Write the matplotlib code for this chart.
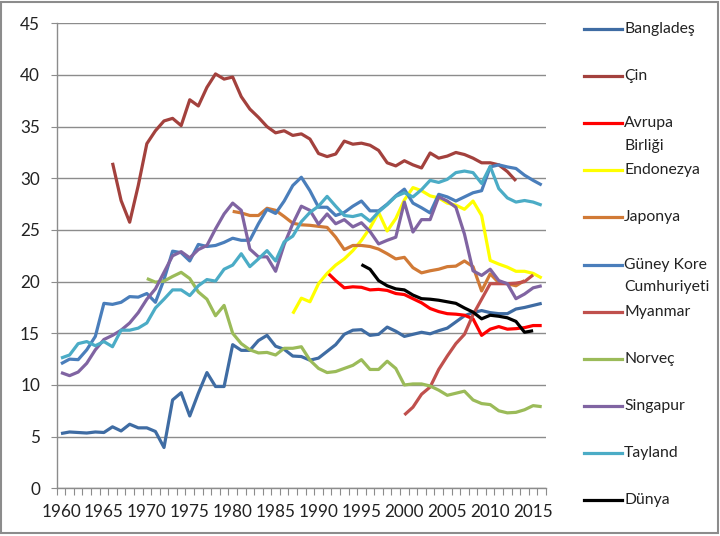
import numpy as np
import matplotlib
matplotlib.use("Agg")
import matplotlib.pyplot as plt
from matplotlib.lines import Line2D
from matplotlib.patches import Rectangle

plt.rcParams["font.family"] = ["Lato", "DejaVu Sans"]

# -------------------------------
# Data
# -------------------------------
bangladesh_start = 1960
bangladesh = [5.3, 5.45, 5.4, 5.35, 5.45, 5.4, 5.95, 5.55, 6.2, 5.85,
              5.85, 5.5, 3.95, 8.55, 9.25, 7.0, 9.2, 11.2, 9.85, 9.85,
              13.9, 13.35, 13.35, 14.3, 14.8, 13.75, 13.45, 12.8, 12.75, 12.4,
              12.6, 13.25, 13.9, 14.9, 15.3, 15.35, 14.8, 14.9, 15.6, 15.2,
              14.7, 14.9, 15.1, 14.95, 15.25, 15.5, 16.1, 16.7, 17.0, 17.2,
              17.0, 16.9, 16.9, 17.35, 17.5, 17.7, 17.9]

cin_start = 1966
cin = [31.5, 27.85, 25.75, 29.3,
       33.35, 34.6, 35.55, 35.8, 35.1, 37.6, 37.0, 38.8, 40.1, 39.6,
       39.8, 37.9, 36.7, 35.9, 35.0, 34.4, 34.6, 34.15, 34.3, 33.8,
       32.4, 32.1, 32.35, 33.6, 33.3, 33.4, 33.2, 32.7, 31.5, 31.2,
       31.7, 31.3, 31.0, 32.45, 31.95, 32.15, 32.5, 32.3, 31.95, 31.5,
       31.5, 31.3, 30.65, 29.75]

ab_start = 1991
avrupa_birligi = [20.9, 20.1, 19.4, 19.5, 19.45, 19.2, 19.25, 19.15, 18.85,
                  18.75, 18.35, 17.95, 17.4, 17.1, 16.9, 16.85, 16.75, 16.4, 14.8,
                  15.4, 15.65, 15.4, 15.45, 15.55, 15.75, 15.75]

endonezya_start = 1987
endonezya = [16.9, 18.4, 18.05,
             19.8, 20.8, 21.6, 22.2, 23.0, 24.0, 25.2, 26.7, 24.9, 26.1,
             27.9, 29.1, 28.8, 28.3, 28.1, 27.6, 27.4, 27.0, 27.8, 26.4,
             22.05, 21.7, 21.4, 21.0, 21.0, 20.8, 20.35]

japonya_start = 1980
japonya = [26.8, 26.65, 26.4, 26.4, 27.1, 26.9, 26.3, 25.65, 25.5, 25.45,
           25.35, 25.25, 24.3, 23.1, 23.5, 23.5, 23.4, 23.15, 22.7, 22.2,
           22.35, 21.35, 20.85, 21.05, 21.2, 21.45, 21.5, 22.0, 21.45, 19.1,
           20.75, 19.9, 19.8, 19.6, 20.1]

kore_start = 1960
guney_kore = [12.05, 12.5, 12.45, 13.4, 14.7, 17.9, 17.8, 18.0, 18.55, 18.5,
              18.85, 18.0, 20.2, 22.95, 22.8, 22.0, 23.6, 23.4, 23.5, 23.8,
              24.2, 24.0, 24.0, 25.6, 27.0, 26.6, 27.8, 29.3, 30.1, 28.8,
              27.2, 27.2, 26.4, 26.7, 27.3, 27.8, 26.85, 26.85, 27.5, 28.3,
              28.95, 27.6, 27.15, 26.65, 28.45, 28.2, 27.8, 28.2, 28.6, 28.8,
              31.1, 31.3, 31.1, 30.95, 30.3, 29.8, 29.35]

myanmar_start = 2000
myanmar = [7.1, 7.85, 9.1, 9.8, 11.5, 12.8, 14.0, 14.9, 16.8, 18.3,
           19.8, 19.8, 19.8, 19.85, 20.0, 20.65]

norvec_start = 1970
norvec = [20.3, 19.95, 20.05, 20.5, 20.9, 20.3, 19.0, 18.3, 16.7, 17.7,
          15.0, 14.0, 13.4, 13.1, 13.15, 12.9, 13.55, 13.55, 13.7, 12.4,
          11.6, 11.2, 11.3, 11.6, 11.9, 12.45, 11.5, 11.5, 12.3, 11.6,
          10.0, 10.1, 10.1, 9.9, 9.5, 9.0, 9.2, 9.4, 8.55, 8.2,
          8.1, 7.5, 7.3, 7.35, 7.6, 8.0, 7.9]

singapur_start = 1960
singapur = [11.2, 10.9, 11.25, 12.1, 13.4, 14.4, 14.8, 15.3, 16.0, 17.0,
            18.3, 19.3, 20.9, 22.5, 22.9, 22.3, 23.1, 23.5, 25.1, 26.55,
            27.6, 26.9, 23.15, 22.4, 22.4, 21.0, 23.6, 25.6, 27.3, 26.9,
            25.55, 26.55, 25.6, 26.0, 25.3, 25.7, 24.85, 23.65, 24.0, 24.3,
            27.7, 24.8, 26.0, 26.0, 28.2, 27.8, 27.2, 24.6, 21.05, 20.6,
            21.2, 20.1, 19.8, 18.35, 18.8, 19.4, 19.6]

tayland_start = 1960
tayland = [12.6, 12.9, 14.0, 14.2, 13.8, 14.2, 13.7, 15.3, 15.3, 15.5,
           16.0, 17.45, 18.3, 19.2, 19.2, 18.65, 19.6, 20.2, 20.05, 21.2,
           21.6, 22.7, 21.45, 22.2, 23.0, 22.0, 23.85, 24.4, 25.8, 26.7,
           27.3, 28.25, 27.3, 26.4, 26.3, 26.5, 25.85, 26.75, 27.45, 28.25,
           28.6, 28.2, 28.9, 29.8, 29.6, 29.9, 30.55, 30.7, 30.55, 29.5,
           31.15, 29.0, 28.1, 27.7, 27.85, 27.7, 27.4]

dunya_start = 1995
dunya = [21.65, 21.2, 20.1, 19.6, 19.3,
         19.2, 18.7, 18.35, 18.3, 18.2, 18.05, 17.9, 17.45, 17.05, 16.4,
         16.75, 16.65, 16.5, 16.15, 15.1, 15.25]

series_names = ["Bangladeş", "Çin", "Avrupa\nBirliği", "Endonezya", "Japonya",
                "Güney Kore\nCumhuriyeti", "Myanmar", "Norveç", "Singapur",
                "Tayland", "Dünya"]
series_values = [bangladesh, cin, avrupa_birligi, endonezya, japonya,
                 guney_kore, myanmar, norvec, singapur, tayland, dunya]
series_starts = [bangladesh_start, cin_start, ab_start, endonezya_start,
                 japonya_start, kore_start, myanmar_start, norvec_start,
                 singapur_start, tayland_start, dunya_start]
series_colors = ["#3F6CA3", "#A3413D", "#FF0000", "#FFFF00", "#D17A36",
                 "#4A7EBB", "#C0504D", "#9BBB59", "#8064A2", "#4BACC6",
                 "#000000"]

# -------------------------------
# Figure
# -------------------------------
W, H = 720, 536
fig = plt.figure(figsize=(W / 100, H / 100), dpi=100)
ax = fig.add_axes([56.7 / W, 1 - 488.3 / H, (546 - 56.7) / W, (488.3 - 23.3) / H])

lw = 2.3
for vals, start, color in zip(series_values, series_starts, series_colors):
    years = np.arange(start, start + len(vals))
    ax.plot(years, vals, color=color, lw=lw, solid_capstyle="butt",
            solid_joinstyle="round")

ax.set_ylim(0, 45)
ax.set_yticks(np.arange(0, 46, 5))
ax.set_xlim(1959.5, 2016.5)
ax.set_xticks(np.arange(1960, 2016, 5))
ax.set_xticks(np.arange(1959.5, 2017, 1), minor=True)

grid_color = "#8C8C8C"
text_color = "#222222"
ax.yaxis.grid(True, color=grid_color, lw=1.0)
ax.set_axisbelow(True)
for side in ["top", "right"]:
    ax.spines[side].set_visible(False)
for side in ["left", "bottom"]:
    ax.spines[side].set_color(grid_color)
    ax.spines[side].set_linewidth(1.0)

ax.tick_params(axis="y", which="major", length=4, color=grid_color, pad=8,
               labelsize=12.3, labelcolor=text_color)
ax.tick_params(axis="x", which="major", length=0, pad=11.5,
               labelsize=12.3, labelcolor=text_color)
ax.tick_params(axis="x", which="minor", length=5, color=grid_color, width=0.8)

# legend, Excel style: evenly spaced entries on the right
for i, (name, color) in enumerate(zip(series_names, series_colors)):
    y_px = 29 + 47.1 * i
    fy = 1 - y_px / H
    fig.add_artist(Line2D([584 / W, 622 / W], [fy, fy], color=color, lw=lw,
                          transform=fig.transFigure))
    for j, line in enumerate(name.split("\n")):
        fig.text(624 / W, 1 - (y_px + 22.5 * j) / H, line, fontsize=11.3,
                 va="center", ha="left", color=text_color)

# chart area border
fig.add_artist(Rectangle((1 / W, 3 / H), 717 / W, 531 / H, fill=False,
                         edgecolor="#8C8C8C", lw=1.5, transform=fig.transFigure))

fig.savefig("out.png", dpi=100)
